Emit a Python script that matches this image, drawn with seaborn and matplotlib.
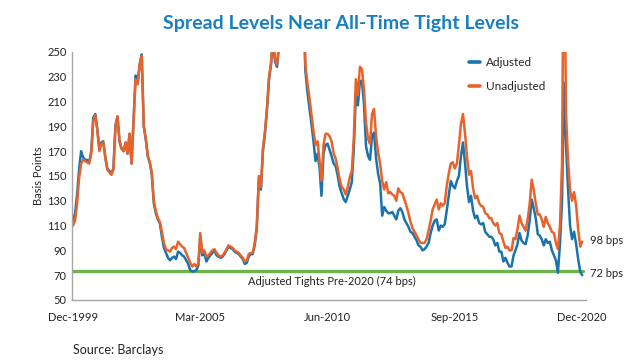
import matplotlib
matplotlib.use("Agg")
import matplotlib.pyplot as plt
import seaborn as sns
import pandas as pd

# monthly spread levels (bps), Dec-1999 .. Dec-2020
adjusted = [
    114, 120, 135, 155, 170, 165, 163, 163, 161, 170,
    197, 200, 188, 172, 177, 178, 165, 156, 154, 152,
    156, 191, 198, 178, 172, 170, 177, 168, 184, 160,
    196, 231, 225, 240, 248, 190, 180, 166, 160, 152,
    128, 120, 115, 112, 101, 92, 88, 84, 82, 84,
    85, 83, 89, 88, 86, 85, 82, 79, 74, 73,
    73, 74, 78, 101, 86, 88, 81, 84, 86, 88,
    90, 86, 85, 84, 85, 87, 90, 93, 92, 91,
    89, 88, 87, 85, 83, 79, 80, 85, 87, 87,
    95, 108, 148, 139, 170, 184, 203, 228, 240, 260,
    242, 238, 256, 288, 318, 355, 435, 555, 585, 595,
    575, 515, 435, 365, 295, 235, 218, 205, 192, 178,
    162, 168, 156, 134, 168, 175, 176, 171, 166, 160,
    158, 150, 141, 136, 131, 129, 134, 139, 145, 172,
    216, 207, 226, 227, 208, 174, 166, 163, 182, 185,
    164, 152, 144, 118, 125, 122, 120, 120, 121, 118,
    115, 122, 124, 121, 115, 112, 109, 105, 104, 101,
    98, 94, 93, 90, 91, 93, 96, 104, 110, 114,
    115, 106, 110, 109, 111, 122, 134, 146, 142, 140,
    146, 150, 166, 177, 160, 142, 129, 134, 122, 116,
    118, 112, 111, 112, 105, 103, 101, 101, 99, 94,
    96, 89, 89, 81, 84, 80, 77, 77, 86, 90,
    95, 104, 98, 96, 95, 102, 114, 131, 124, 116,
    103, 102, 99, 94, 99, 96, 97, 90, 86, 82,
    72, 95, 130, 225, 175, 140, 110, 99, 105, 95,
    83, 73, 70,
]
unadjusted = [
    110, 114, 128, 148, 160, 163, 162, 161, 160, 168,
    194, 199, 187, 170, 176, 177, 165, 155, 153, 151,
    155, 190, 198, 178, 172, 170, 177, 168, 184, 160,
    195, 228, 224, 240, 247, 190, 180, 166, 161, 153,
    130, 122, 116, 113, 105, 96, 91, 90, 89, 92,
    93, 91, 97, 95, 93, 92, 88, 84, 80, 77,
    79, 77, 80, 104, 88, 90, 85, 86, 88, 90,
    91, 88, 86, 85, 86, 88, 91, 94, 93, 92,
    90, 89, 88, 86, 84, 81, 82, 87, 88, 88,
    96, 110, 150, 141, 172, 186, 205, 230, 242, 262,
    244, 240, 258, 290, 320, 360, 440, 560, 590, 600,
    580, 520, 440, 370, 300, 240, 225, 213, 200, 186,
    175, 178, 162, 146, 175, 184, 184, 182, 178, 168,
    164, 156, 147, 141, 139, 135, 141, 149, 154, 180,
    228, 215, 238, 236, 220, 193, 180, 176, 200, 204,
    182, 169, 160, 146, 139, 145, 136, 137, 135, 134,
    130, 140, 137, 136, 131, 126, 120, 113, 108, 105,
    102, 99, 96, 96, 96, 99, 106, 114, 123, 127,
    131, 123, 128, 126, 128, 142, 152, 160, 161, 156,
    160, 175, 192, 200, 184, 166, 151, 154, 140, 132,
    134, 128, 126, 125, 120, 119, 116, 116, 112, 110,
    112, 104, 103, 97, 92, 93, 90, 90, 100, 99,
    107, 118, 112, 109, 106, 115, 127, 147, 139, 128,
    119, 119, 115, 109, 117, 112, 109, 105, 104, 96,
    91, 110, 160, 373, 200, 163, 139, 130, 137, 126,
    107, 93, 97,
]
series_names = ["Adjusted", "Unadjusted"]
tick_labels = ["Dec-1999", "Mar-2005", "Jun-2010", "Sep-2015", "Dec-2020"]
tights_level = 73
tights_label = "Adjusted Tights Pre-2020 (74 bps)"
end_labels = ["72 bps", "98 bps"]

dates = pd.date_range("1999-12-01", periods=len(adjusted), freq="MS")
df = pd.concat([
    pd.DataFrame({"Date": dates, "Spread": adjusted, "Series": "Adjusted"}),
    pd.DataFrame({"Date": dates, "Spread": unadjusted, "Series": "Unadjusted"}),
])

sns.set_style("white")
plt.rcParams["font.family"] = ["Lato", "DejaVu Sans"]

blue = "#1a74ab"
orange = "#e8632b"
green = "#6db44f"

fig = plt.figure(figsize=(6.24, 3.6), dpi=100)
ax = fig.add_axes([0.1154, 0.1667, 0.824, 0.689])

x0 = dates[0] - pd.Timedelta(days=15)
x1 = dates[-1] + pd.Timedelta(days=60)
ax.plot([x0, dates[-1] + pd.Timedelta(days=5)], [tights_level, tights_level],
        color=green, lw=2.4, zorder=1)

sns.lineplot(data=df, x="Date", y="Spread", hue="Series", hue_order=series_names,
             palette=[blue, orange], linewidth=1.8, ax=ax, zorder=2)

ax.set_xlim(x0, x1)
ax.set_ylim(50, 250)
ax.set_yticks(range(50, 251, 20))
ax.set_xticks(pd.to_datetime(tick_labels, format="%b-%Y"))
ax.set_xticklabels(tick_labels)
ax.tick_params(axis="both", labelsize=8, colors="#222222", length=0, pad=4)
ax.tick_params(axis="x", pad=9)
ax.set_xlabel("")
ax.set_ylabel("Basis Points", fontsize=8, color="#222222", labelpad=2)

for side in ["top", "right"]:
    ax.spines[side].set_visible(False)
for side in ["left", "bottom"]:
    ax.spines[side].set_color("#a6a6a6")
    ax.spines[side].set_linewidth(1)

leg = ax.legend(loc="upper left", bbox_to_anchor=(0.752, 0.842),
                bbox_transform=fig.transFigure, frameon=False, fontsize=8.5,
                handlelength=0.9, handletextpad=0.5, labelspacing=1.1,
                borderaxespad=0, borderpad=0)
for line in leg.get_lines():
    line.set_linewidth(2.6)

mid = dates[128]
ax.text(mid, tights_level - 4, tights_label, ha="center", va="top",
        fontsize=8, color="#222222")
ax.text(dates[-1] + pd.Timedelta(days=120), adjusted[-1] + 1, end_labels[0],
        ha="left", va="center", fontsize=8, color="#222222", clip_on=False)
ax.text(dates[-1] + pd.Timedelta(days=120), unadjusted[-1] + 1, end_labels[1],
        ha="left", va="center", fontsize=8, color="#222222", clip_on=False)

fig.text(0.547, 0.935, "Spread Levels Near All-Time Tight Levels", ha="center", va="center",
         fontsize=14, fontweight="bold", color="#1a7fbf")
fig.text(0.117, 0.027, "Source: Barclays", ha="left", va="center", fontsize=9,
         color="#222222")

fig.savefig("out.png", dpi=100)
